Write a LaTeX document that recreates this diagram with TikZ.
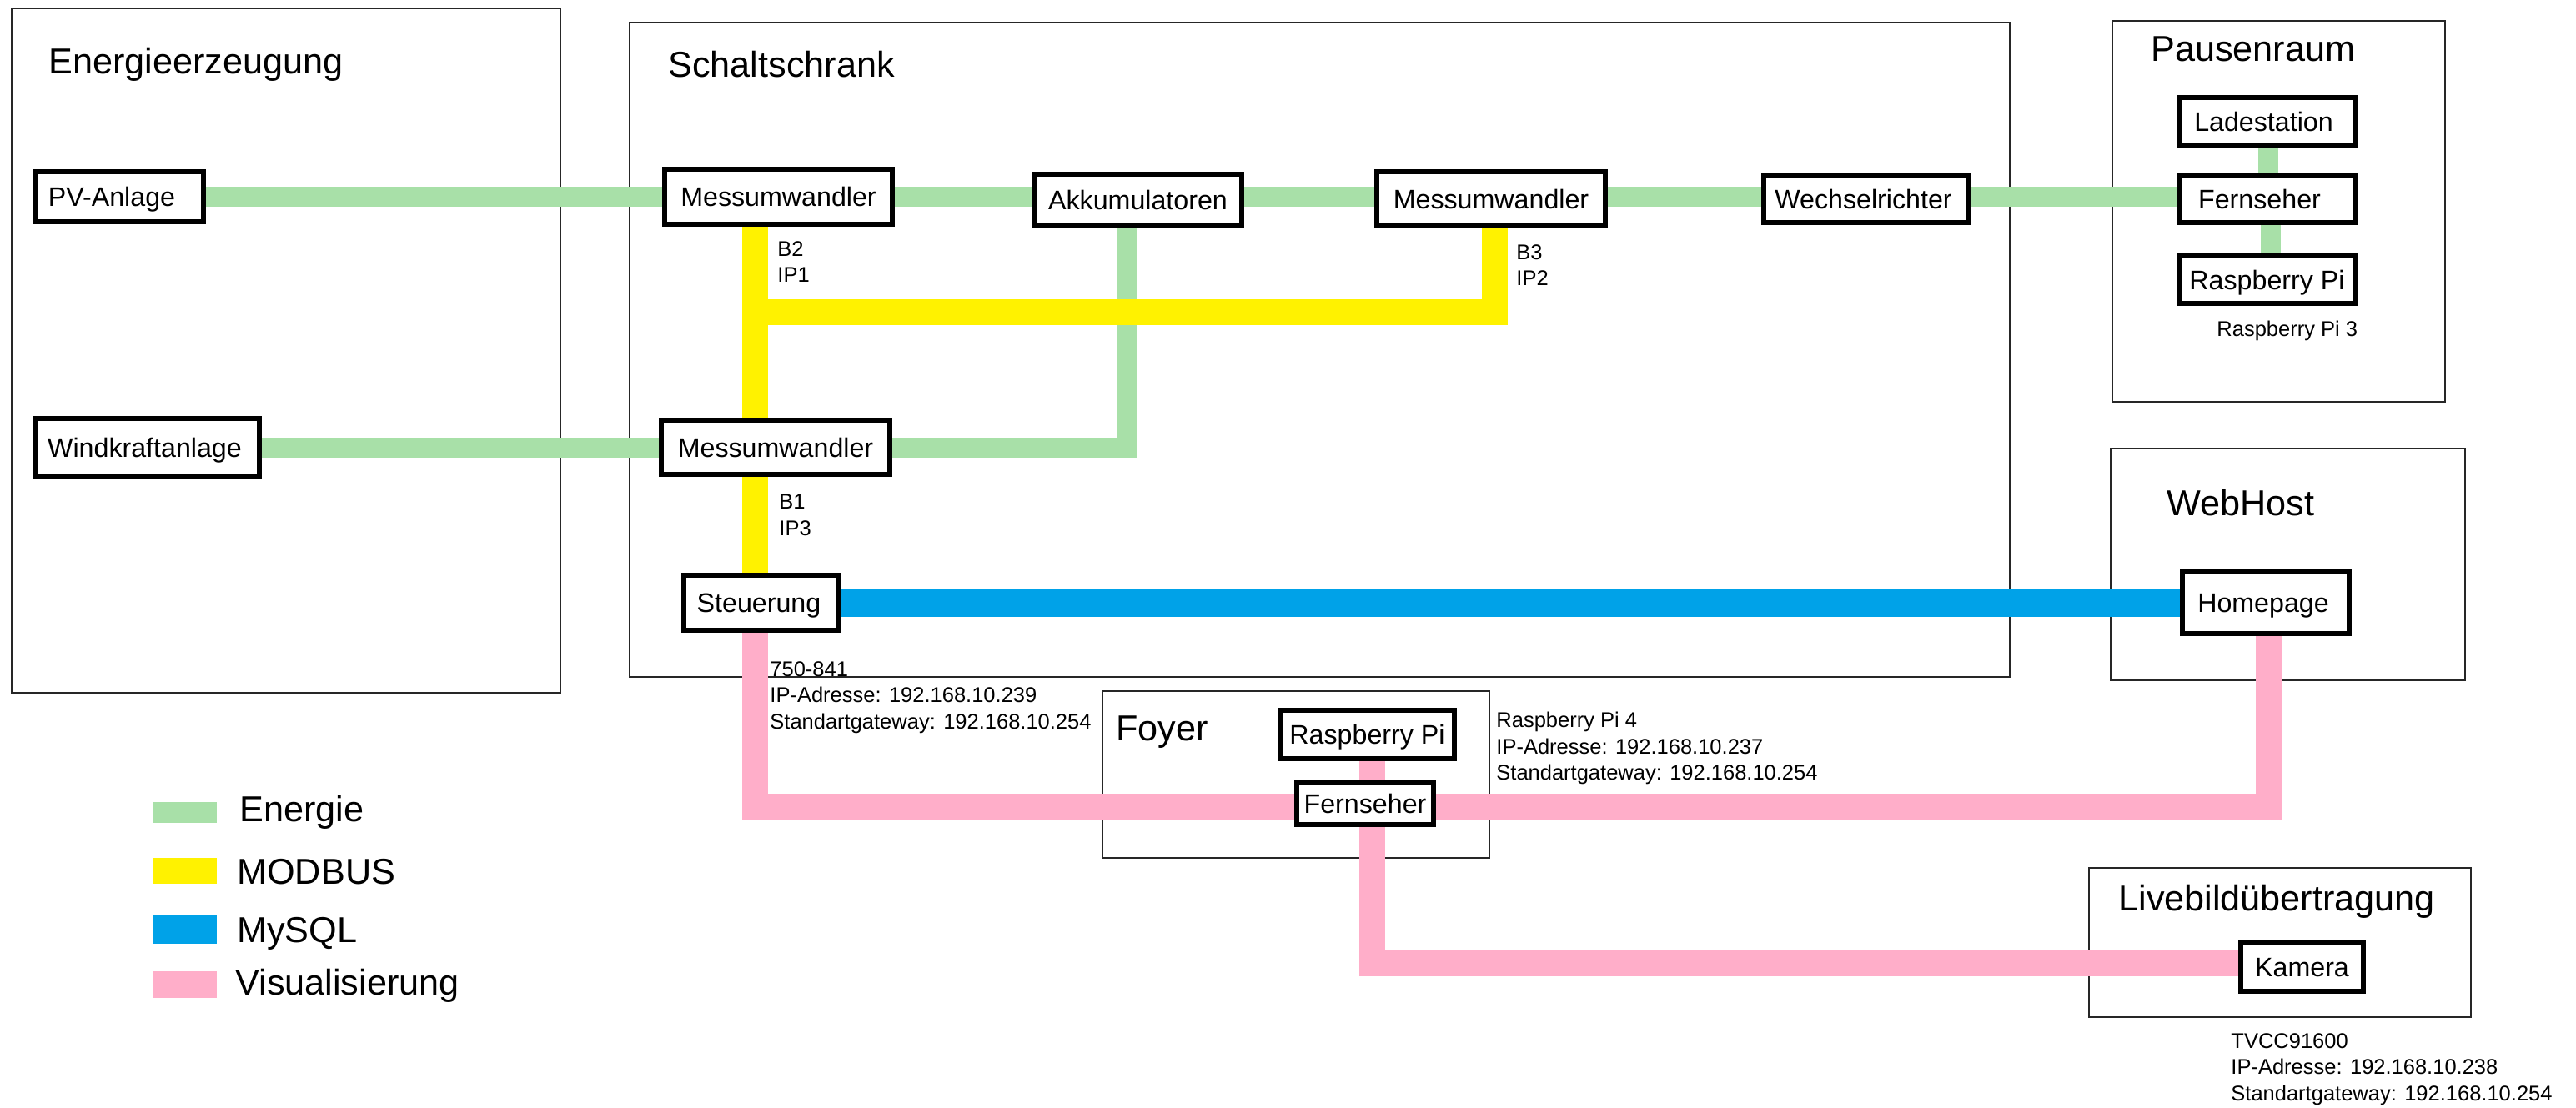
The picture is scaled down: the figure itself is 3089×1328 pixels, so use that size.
\documentclass[tikz,border=0pt]{standalone}
\usepackage{fontspec}
\setmainfont{Liberation Sans}
\pgfdeclarelayer{frames}
\pgfdeclarelayer{lines}
\pgfsetlayers{frames,lines,main}
\tikzset{
  x=0.5pt,y=-0.5pt,
  boxsize/.style 2 args={minimum width={(#1-6)*0.5pt},minimum height={(#2-6)*0.5pt}},
  device/.style={draw=black,fill=white,line width=3pt,inner sep=0pt,
    text height=11.6pt,text depth=0pt,font=\fontsize{16.1}{19}\selectfont},
  framebox/.style={draw=black!85,line width=1.1pt,inner sep=0pt,anchor=north west},
  title/.style={anchor=west,inner sep=0pt,text height=15.5pt,text depth=0pt,
    font=\fontsize{21.6}{25}\selectfont},
  smalltext/.style={anchor=north west,inner sep=0pt,align=left,
    font=\fontsize{12.75}{15.75}\selectfont},
  energie/.style={draw=energiecol,line width=12pt},
  modbus/.style={draw=modbuscol,line width=15.5pt},
  mysql/.style={draw=mysqlcol,line width=17pt},
  visual/.style={draw=visualcol,line width=15.5pt},
  swatch/.style={inner sep=0pt,minimum width=38.5pt,anchor=north west},
}
\definecolor{energiecol}{HTML}{A8E0A8}
\definecolor{modbuscol}{HTML}{FFF200}
\definecolor{mysqlcol}{HTML}{00A2E8}
\definecolor{visualcol}{HTML}{FFAEC9}
\begin{document}
\begin{tikzpicture}
\useasboundingbox (0,0) rectangle (3089,1328);
\begin{pgfonlayer}{frames}
  \fill[white] (0,0) rectangle (3089,1328);
  \node[framebox,minimum width=329pt,minimum height=410.5pt] (energieframe) at (13,9) {};
  \node[framebox,minimum width=827.5pt,minimum height=392.5pt] (schrankframe) at (754,26) {};
  \node[framebox,minimum width=199.5pt,minimum height=228.5pt] (pauseframe) at (2532,24) {};
  \node[framebox,minimum width=212.5pt,minimum height=139pt] (webframe) at (2530,537) {};
  \node[framebox,minimum width=232pt,minimum height=100pt] (foyerframe) at (1321,828) {};
  \node[framebox,minimum width=229pt,minimum height=89.5pt] (liveframe) at (2504,1040) {};
\end{pgfonlayer}

% titles
\node[title] (t1) at (58,73) {Energieerzeugung};
\node[title] (t2) at (801,77) {Schaltschrank};
\node[title] (t3) at (2579,58) {Pausenraum};
\node[title] (t4) at (2598,603) {WebHost};
\node[title] (t5) at (1338,873) {Foyer};
\node[title] (t6) at (2540,1077) {Livebildübertragung};

% devices
\node[device,boxsize={208}{66}] (pv) at (143,236) {\kern-9pt PV-Anlage};
\node[device,boxsize={275}{76}] (wind) at (176.5,537) {\kern-3pt Windkraftanlage};
\node[device,boxsize={279}{72}] (messa) at (933.5,236) {Messumwandler};
\node[device,boxsize={280}{71}] (messb) at (930,536.5) {Messumwandler};
\node[device,boxsize={255}{68}] (akku) at (1364.5,240) {Akkumulatoren};
\node[device,boxsize={280}{71}] (messc) at (1788,238.5) {Messumwandler};
\node[device,boxsize={251}{63}] (wr) at (2237.5,238.5) {\kern-3pt Wechselrichter};
\node[device,boxsize={192}{72}] (steu) at (913,723) {\kern-3pt Steuerung};
\node[device,boxsize={217}{63}] (lade) at (2718.5,145.5) {\kern-4pt Ladestation};
\node[device,boxsize={217}{63}] (fernp) at (2718.5,238.5) {\kern-9pt Fernseher};
\node[device,boxsize={217}{63}] (raspp) at (2718.5,335.5) {Raspberry Pi};
\node[device,boxsize={206}{80}] (home) at (2717,723) {\kern-3pt Homepage};
\node[device,boxsize={215}{64}] (raspf) at (1639.5,881) {Raspberry Pi};
\node[device,boxsize={170}{57}] (fernf) at (1637,963.5) {Fernseher};
\node[device,boxsize={153}{64}] (kamera) at (2760.5,1160) {Kamera};

% connectors
\begin{pgfonlayer}{lines}
  \draw[energie] (pv.east) -- (messa.west |- pv.east);
  \draw[energie] (wind.east) -- (messb.west |- wind.east);
  \draw[energie] (messa.east) -- (akku.west |- messa.east);
  \draw[energie] (akku.east |- messa.east) -- (messc.west |- messa.east);
  \draw[energie] (messc.east |- messa.east) -- (wr.west |- messa.east);
  \draw[energie] (wr.east |- messa.east) -- (fernp.west |- messa.east);
  \draw[energie] ([xshift=0.75pt]lade.south) -- ([xshift=0.75pt]fernp.north);
  \draw[energie] ([xshift=2.25pt]fernp.south) -- ([xshift=2.25pt]raspp.north);
  \draw[energie] (messb.east) -| ([xshift=-6.75pt]akku.south);
  \coordinate (busjoint) at (905,374.5);
  \draw[modbus] ([xshift=-14.25pt]messa.south) -- ([xshift=-12.5pt]messb.north);
  \draw[modbus] ([xshift=-12.5pt]messb.south) -- ([xshift=-4pt]steu.north);
  \draw[modbus] (busjoint) -| ([xshift=2pt]messc.south);
  \draw[mysql] (steu.east) -- (home.west);
  \draw[visual] ([xshift=-4pt]steu.south) |- ([yshift=-1.75pt]fernf.west);
  \draw[visual] ([yshift=-1.75pt]fernf.east) -| ([xshift=1.5pt]home.south);
  \draw[visual] ([xshift=2.75pt]raspf.south) -- ([xshift=4pt]fernf.north);
  \draw[visual] ([xshift=4pt]fernf.south) |- ([yshift=2.5pt]kamera.west);
\end{pgfonlayer}

% small annotations
\node[smalltext] (nb2) at (932,289) {B2\\IP1};
\node[smalltext] (nb1) at (934,593) {B1\\IP3};
\node[smalltext] (nb3) at (1818,293) {B3\\IP2};
\node[smalltext] (nr3) at (2658,385) {Raspberry Pi 3};
\node[smalltext] (nst) at (923,793) {750-841\\IP-Adresse: 192.168.10.239\\Standartgateway: 192.168.10.254};
\node[smalltext] (nr4) at (1794,854) {Raspberry Pi 4\\IP-Adresse: 192.168.10.237\\Standartgateway: 192.168.10.254};
\node[smalltext] (ncam) at (2675,1239) {TVCC91600\\IP-Adresse: 192.168.10.238\\Standartgateway: 192.168.10.254};

% legend
\node[swatch,fill=energiecol,minimum height=12.5pt] (leg1) at (183,962) {};
\node[swatch,fill=modbuscol,minimum height=15.5pt] (leg2) at (183,1029) {};
\node[swatch,fill=mysqlcol,minimum height=17pt] (leg3) at (183,1098) {};
\node[swatch,fill=visualcol,minimum height=16pt] (leg4) at (183,1165) {};
\node[title] (ll1) at (287,970) {Energie};
\node[title] (ll2) at (284,1045) {MODBUS};
\node[title] (ll3) at (284,1115) {MySQL};
\node[title] (ll4) at (282,1178) {Visualisierung};
\end{tikzpicture}
\end{document}
